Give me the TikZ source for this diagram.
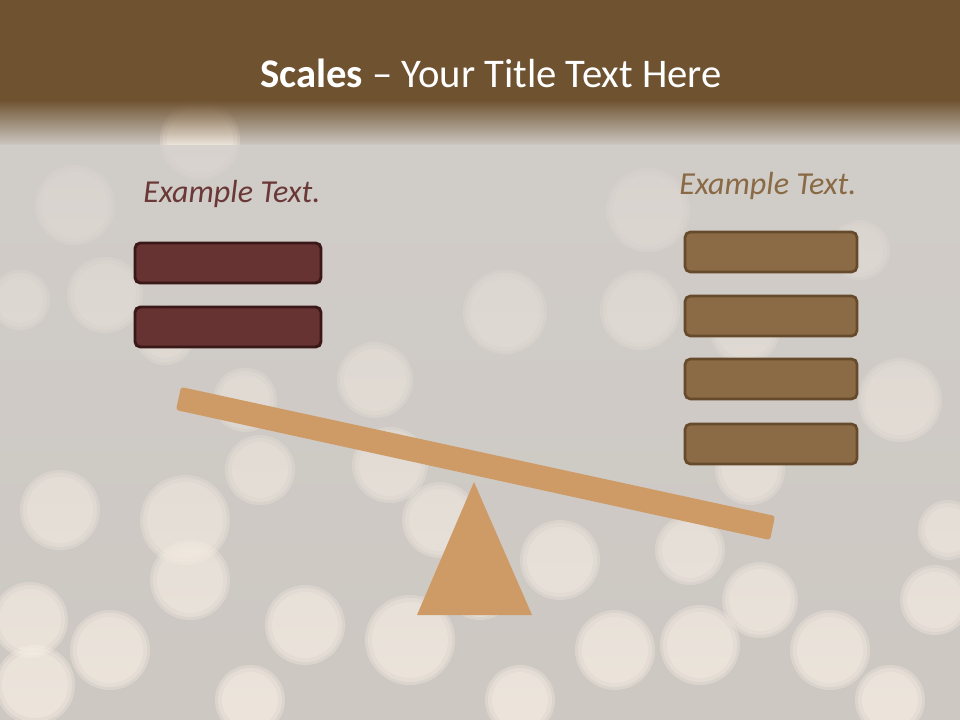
\documentclass[tikz,border=0pt]{standalone}
\usepackage{fontspec}
\setmainfont{Carlito}
\usetikzlibrary{fadings}
\definecolor{hdr}{HTML}{6F5331}
\definecolor{bgc}{HTML}{CDC8C2}
\definecolor{veil}{HTML}{D2CECA}
\definecolor{bokeh}{HTML}{FFF6EA}
\definecolor{lfill}{HTML}{673232}
\definecolor{ldraw}{HTML}{3A1818}
\definecolor{rfill}{HTML}{8B6B45}
\definecolor{rdraw}{HTML}{664A2C}
\definecolor{ltext}{HTML}{6B3838}
\definecolor{rtext}{HTML}{8A6A45}
\definecolor{beam}{HTML}{CE9A65}
\tikzset{
  bub/.style={fill=bokeh, fill opacity=0.3},
  lbox/.style={draw=ldraw, fill=lfill, line width=2.2pt, rounded corners=4pt, minimum width=139.5pt, minimum height=30pt, inner sep=0pt},
  rbox/.style={draw=rdraw, fill=rfill, line width=2pt, rounded corners=4pt, minimum width=129pt, minimum height=30pt, inner sep=0pt},
  headtxt/.style={font=\itshape\fontsize{24}{28}\selectfont, anchor=base, inner sep=0pt},
}
\begin{document}
\begin{tikzpicture}[x=0.75pt,y=-0.75pt]
\useasboundingbox (0,0) rectangle (960,720);
\fill[bgc] (0,0) rectangle (960,720);
% bokeh
\foreach \cx/\cy/\r in {75/205/40, 105/295/38, 20/300/30, 200/140/40, 165/335/30, 375/380/38, 505/312/42, 648/210/42, 640/310/40, 900/400/42, 390/465/38, 245/400/32, 745/330/35, 860/250/30,
  60/510/40, 185/520/45, 190/580/40, 30/620/38, 35/685/40, 110/650/40, 305/625/40, 410/640/45, 480/585/35, 560/560/40, 615/650/40, 700/645/40, 760/600/38, 830/650/40, 935/600/35, 948/530/30, 750/470/35, 690/550/35, 260/470/35, 440/520/38, 250/700/35, 520/700/35, 890/700/35}
  {\fill[bub] (\cx,\cy) circle (\r);
   \fill[bub] (\cx,\cy) circle (\r-3);
   \fill[bub] (\cx,\cy) circle (\r-7);}
% veil
\fill[veil, fill opacity=0.8, path fading=south] (0,145) rectangle (960,720);
% header
\fill[hdr] (0,0) rectangle (960,100);
\fill[hdr, path fading=south] (0,100) rectangle (960,145);
\node[anchor=base, text=white, inner sep=0pt, font=\fontsize{30.5}{36}\selectfont] (title) at (491,88) {\textbf{Scales} – Your Title Text Here};
% headings
\node[headtxt, text=ltext] (lhead) at (232,203) {Example Text.};
\node[headtxt, text=rtext] (rhead) at (768,195) {Example Text.};
% boxes
\node[lbox] (l1) at (228,263) {};
\node[lbox] (l2) at (228,327) {};
\node[rbox] (r1) at (771,252) {};
\node[rbox] (r2) at (771,316) {};
\node[rbox] (r3) at (771,379) {};
\node[rbox] (r4) at (771,444) {};
% beam and fulcrum
\fill[beam, rounded corners=2pt] (181,387) -- (775,516) -- (770,540) -- (176,410) -- cycle;
\fill[beam] (474,482) -- (532,615) -- (417,615) -- cycle;
\end{tikzpicture}
\end{document}
